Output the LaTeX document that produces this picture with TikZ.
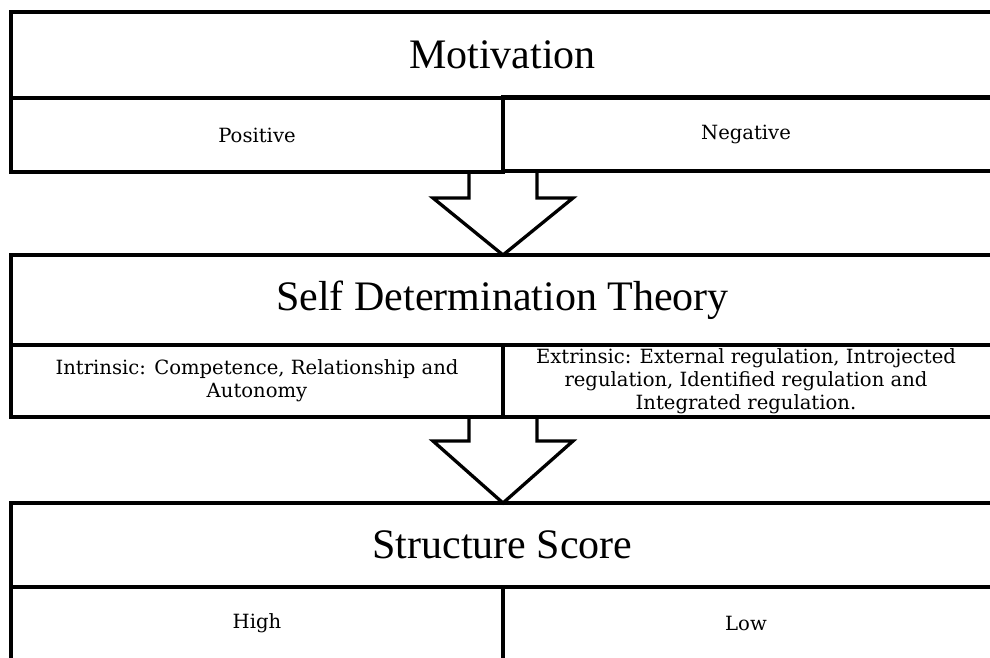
\documentclass[tikz,border=0pt]{standalone}
\usepackage{fontspec}
\setmainfont{Liberation Serif}
\newfontfamily\smallserif{DejaVu Serif}
\usetikzlibrary{calc}
\begin{document}
\begin{tikzpicture}[x=1pt,y=-1pt,
  box/.style={draw, line width=3.5pt, rectangle, inner sep=0pt, outer sep=0pt, align=center},
  titlebox/.style={box, minimum width=983pt, font=\fontsize{42}{48}\selectfont},
  subbox/.style={box, minimum width=492pt, font=\smallserif\fontsize{19.6}{23}\selectfont},
  blockarrow/.style={draw, line width=3.3pt, line join=miter}]
\clip (0,0) rectangle (990,657);
\fill[white] (0,0) rectangle (990,657);
% Motivation group
\node[titlebox, minimum height=86pt] (mot) at (502.5,55) {Motivation};
\node[subbox, minimum height=74pt] (pos) at (257,135) {Positive};
\node[subbox, minimum height=74pt] (neg) at (749,134) {\hspace*{-6pt}Negative};
% Self Determination Theory group
\node[titlebox, minimum height=90pt] (sdt) at (502.5,300) {Self Determination Theory};
\node[subbox, minimum height=72pt] (intr) at (257,381) {Intrinsic: Competence, Relationship and\\Autonomy};
\node[subbox, minimum height=72pt] (extr) at (749,381) {\hspace*{-6pt}Extrinsic: External regulation, Introjected\\\hspace*{-6pt}regulation, Identified regulation and\\\hspace*{-6pt}Integrated regulation.};
% Structure Score group
\node[titlebox, minimum height=84pt] (str) at (502.5,545) {Structure Score};
\node[subbox, minimum height=73pt] (high) at (257,623.5) {High};
\node[subbox, minimum height=73pt] (low) at (749,623.5) {\hspace*{-6pt}Low};
% block arrows
\draw[blockarrow] ($(pos.south east)+(-34,0)$) -- ++(0,26) -- ++(-36,0)
  -- (pos.south east |- sdt.north)
  -- ($(pos.south east)+(70,26)$) -- ++(-36,0) -- ++(0,-26);
\draw[blockarrow] ($(intr.south east)+(-34,0)$) -- ++(0,24) -- ++(-36,0)
  -- (intr.south east |- str.north)
  -- ($(intr.south east)+(70,24)$) -- ++(-36,0) -- ++(0,-24);
\end{tikzpicture}
\end{document}
